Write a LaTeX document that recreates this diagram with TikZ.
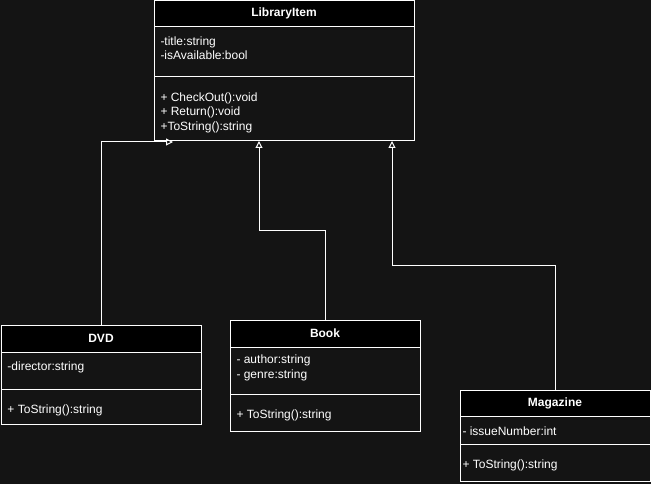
\documentclass[tikz,border=0pt]{standalone}
\usepackage{fontspec}
\setmainfont{Liberation Sans}
\usetikzlibrary{arrows.meta, positioning}
\definecolor{canvasbg}{RGB}{20,20,20}

\begin{document}
\begin{tikzpicture}[x=1pt, y=-1pt, line width=1pt,
    classhead/.style={draw=white, fill=black, text=white, anchor=north west, inner sep=0pt, outer sep=0pt, font=\fontsize{12}{14.5}\selectfont\bfseries},
    classpart/.style={draw=white, fill=canvasbg, anchor=north west, inner sep=0pt, outer sep=0pt},
    member/.style={text=white, anchor=north west, inner sep=0pt, align=left, font=\fontsize{12}{14.5}\selectfont, execute at begin node=\strut},
    inherit/.style={draw=white, line width=1pt, -{Triangle[open, length=7pt, width=7pt]}}]
        % Canvas
        \fill[canvasbg] (0,0) rectangle (651,484);

        % LibraryItem (base class)
        \node[classhead, minimum width=260pt, minimum height=26pt] (li) at (154,0.5) {LibraryItem};
        \node[classpart, minimum width=260pt, minimum height=50pt] (li-attr) at (154,26.5) {};
        \node[classpart, minimum width=260pt, minimum height=64pt] (li-ops) at (154,76.5) {};
        \node[member] (li-attr-txt) at (160,36) {-title:string\\-isAvailable:bool};
        \node[member] (li-ops-txt) at (160,92) {+ CheckOut():void\\+ Return():void\\+ToString():string};

        % DVD
        \node[classhead, minimum width=200pt, minimum height=27pt] (dvd) at (1,325) {DVD};
        \node[classpart, minimum width=200pt, minimum height=37pt] (dvd-attr) at (1,352) {};
        \node[classpart, minimum width=200pt, minimum height=35pt] (dvd-ops) at (1,389) {};
        \node[member] (dvd-attr-txt) at (7,359.5) {-director:string};
        \node[member] (dvd-ops-txt) at (7,402.5) {+ ToString():string};

        % Book
        \node[classhead, minimum width=190pt, minimum height=27pt] (book) at (230,320) {Book};
        \node[classpart, minimum width=190pt, minimum height=47pt] (book-attr) at (230,347) {};
        \node[classpart, minimum width=190pt, minimum height=37pt] (book-ops) at (230,394) {};
        \node[member] (book-attr-txt) at (236,354.5) {- author:string\\- genre:string};
        \node[member] (book-ops-txt) at (236,407.5) {+ ToString():string};

        % Magazine
        \node[classhead, minimum width=190pt, minimum height=26pt] (mag) at (460,390) {Magazine};
        \node[classpart, minimum width=190pt, minimum height=28pt] (mag-attr) at (460,416) {};
        \node[classpart, minimum width=190pt, minimum height=37pt] (mag-ops) at (460,444) {};
        \node[member] (mag-attr-txt) at (462,424.5) {- issueNumber:int};
        \node[member] (mag-ops-txt) at (462,457.5) {+ ToString():string};

        % Inheritance arrows
        \coordinate (dvdtip) at (173,142);
        \coordinate (booktip) at (259,141);
        \coordinate (magtip) at (392,141);
        \draw[inherit] (dvd.north) |- (dvdtip);
        \draw[inherit] (book.north) -- ++(0,-90) -| (booktip);
        \draw[inherit] (mag.north) -- ++(0,-125) -| (magtip);
    \end{tikzpicture}
\end{document}
